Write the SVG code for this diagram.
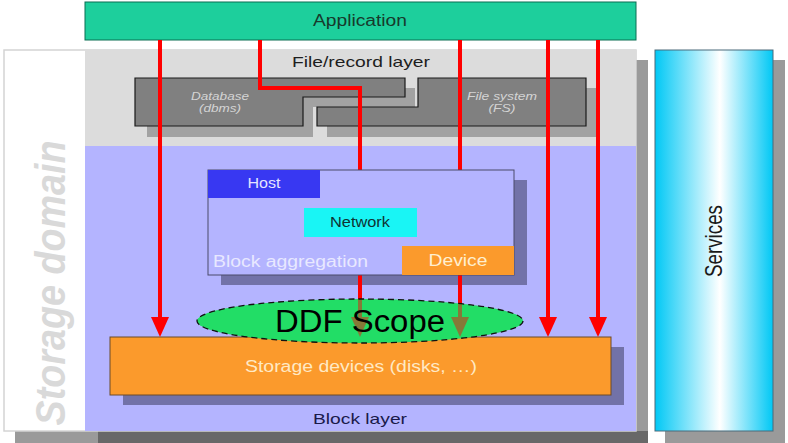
<svg xmlns="http://www.w3.org/2000/svg" width="788" height="443" viewBox="0 0 788 443">
  <defs>
    <style>
      text { font-family: "Liberation Sans", Arial, sans-serif; }
      .lbl { font-size: 15px; fill: #1e1e1e; text-anchor: middle; }
      .dbtxt { font-size: 11px; font-style: italic; fill: #d4d4d4; text-anchor: middle; }
      .arrow { fill: none; stroke: #ff0000; stroke-width: 4; }
    </style>
    <marker id="ah" viewBox="0 0 20 18" refX="0" refY="9" markerWidth="20" markerHeight="18" markerUnits="userSpaceOnUse" orient="auto">
      <path d="M0,0 L20,9 L0,18 Z" fill="#ff0000"/>
    </marker>
    <linearGradient id="svc" x1="0" y1="0" x2="1" y2="0">
      <stop offset="0" stop-color="#00c8f5"/>
      <stop offset="0.55" stop-color="#ffffff"/>
      <stop offset="1" stop-color="#00c8f5"/>
    </linearGradient>
  </defs>

  <rect width="788" height="443" fill="#ffffff"/>

  <g id="storage-domain">
    <rect x="15" y="60" width="633" height="383" fill="#9a9a9a"/>
    <rect x="98" y="431" width="550" height="12" fill="#686868"/>
    <rect x="4" y="50" width="632" height="381" fill="#ffffff" stroke="#d4d4d4" stroke-width="1.5"/>
    <text transform="translate(65,283) rotate(-90)" font-size="42" font-weight="bold" font-style="italic" fill="#d9d9d9" text-anchor="middle" textLength="285" lengthAdjust="spacingAndGlyphs">Storage domain</text>
  </g>

  <g id="file-record-layer">
    <rect x="85" y="50" width="551" height="96" fill="#dcdcdc"/>
    <text class="lbl" x="361" y="67" font-size="15" textLength="138" lengthAdjust="spacingAndGlyphs">File/record layer</text>
  </g>

  <g id="block-layer">
    <rect x="85" y="146" width="551" height="285" fill="#b4b4ff"/>
    <text class="lbl" x="360" y="424" style="fill:#1a1a4a;font-size:15px" textLength="94" lengthAdjust="spacingAndGlyphs">Block layer</text>
  </g>

  <g id="application">
    <rect x="85" y="2" width="551" height="38" fill="#1dcf9c" stroke="#0b6e52" stroke-width="1"/>
    <text class="lbl" x="360" y="26" style="fill:#173a2c;font-size:16px" textLength="94" lengthAdjust="spacingAndGlyphs">Application</text>
  </g>

  <g id="database">
    <path d="M147,88 H415 V107 H313 V137 H147 Z" fill="#a2a2a2"/>
    <path d="M135,78 H405 V97 H303 V126 H135 Z" fill="#808080" stroke="#1a1a1a" stroke-width="1.2"/>
    <text class="dbtxt" x="220" y="100" textLength="58" lengthAdjust="spacingAndGlyphs">Database</text>
    <text class="dbtxt" x="220" y="112" textLength="42" lengthAdjust="spacingAndGlyphs">(dbms)</text>
  </g>

  <g id="filesystem">
    <path d="M428,88 H596 V137 H327 V117 H428 Z" fill="#a2a2a2"/>
    <path d="M418,78 H586 V126 H317 V107 H418 Z" fill="#808080" stroke="#1a1a1a" stroke-width="1.2"/>
    <text class="dbtxt" x="502" y="100" textLength="70" lengthAdjust="spacingAndGlyphs">File system</text>
    <text class="dbtxt" x="502" y="112" textLength="27" lengthAdjust="spacingAndGlyphs">(FS)</text>
  </g>

  <g id="storage-devices">
    <rect x="123" y="347" width="501" height="58" fill="#7272a8"/>
    <rect x="110" y="337" width="501" height="58" fill="#fb9a2c" stroke="#6a4a2a" stroke-width="1"/>
    <text class="lbl" x="361" y="372" style="fill:#ffe9c4;font-size:16px" textLength="232" lengthAdjust="spacingAndGlyphs">Storage devices (disks, …)</text>
  </g>

  <g id="block-aggregation-shadow">
    <rect x="221" y="180" width="306" height="105" fill="#7272a8"/>
  </g>

  <g id="ddf-scope-base">
    <ellipse cx="360" cy="321" rx="163" ry="22" fill="#22dd66"/>
  </g>

  <g id="connectors">
    <path class="arrow" d="M160,40 V317" marker-end="url(#ah)"/>
    <path class="arrow" d="M260,40 V88 H360 V317" marker-end="url(#ah)"/>
    <path class="arrow" d="M460,40 V317" marker-end="url(#ah)"/>
    <path class="arrow" d="M548,40 V317" marker-end="url(#ah)"/>
    <path class="arrow" d="M598,40 V317" marker-end="url(#ah)"/>
  </g>

  <g id="block-aggregation">
    <rect x="208" y="170" width="306" height="105" fill="#b4b4ff" stroke="#4a4a6a" stroke-width="1"/>
    <text x="213" y="267" font-size="16" fill="#e8e8ff" textLength="155" lengthAdjust="spacingAndGlyphs">Block aggregation</text>
  </g>

  <g id="host">
    <rect x="208" y="170" width="112" height="28" fill="#3838f2"/>
    <text x="264" y="188" font-size="14" fill="#e4e4ff" text-anchor="middle" textLength="33" lengthAdjust="spacingAndGlyphs">Host</text>
  </g>

  <g id="network">
    <rect x="304" y="208" width="113" height="29" fill="#19f5f5"/>
    <text x="360" y="227" font-size="14" fill="#0f3333" text-anchor="middle" textLength="60" lengthAdjust="spacingAndGlyphs">Network</text>
  </g>

  <g id="device">
    <rect x="402" y="246" width="112" height="29" fill="#fb9a2c"/>
    <text x="458" y="266" font-size="16" fill="#ffefd0" text-anchor="middle" textLength="59" lengthAdjust="spacingAndGlyphs">Device</text>
  </g>

  <g id="ddf-scope">
    <ellipse cx="360" cy="321" rx="163" ry="22" fill="#22dd66" fill-opacity="0.55" stroke="#111111" stroke-width="1.3" stroke-dasharray="6 4"/>
    <text x="360" y="332" font-size="31" fill="#000000" text-anchor="middle" textLength="170" lengthAdjust="spacingAndGlyphs">DDF Scope</text>
  </g>

  <g id="services">
    <rect x="665" y="60" width="120" height="383" fill="#9a9a9a"/>
    <rect x="655" y="50" width="118" height="381" fill="url(#svc)" stroke="#4a6a7a" stroke-width="1"/>
    <text transform="translate(722,241) rotate(-90)" font-size="24" fill="#1a1a1a" text-anchor="middle" textLength="72" lengthAdjust="spacingAndGlyphs">Services</text>
  </g>
</svg>
